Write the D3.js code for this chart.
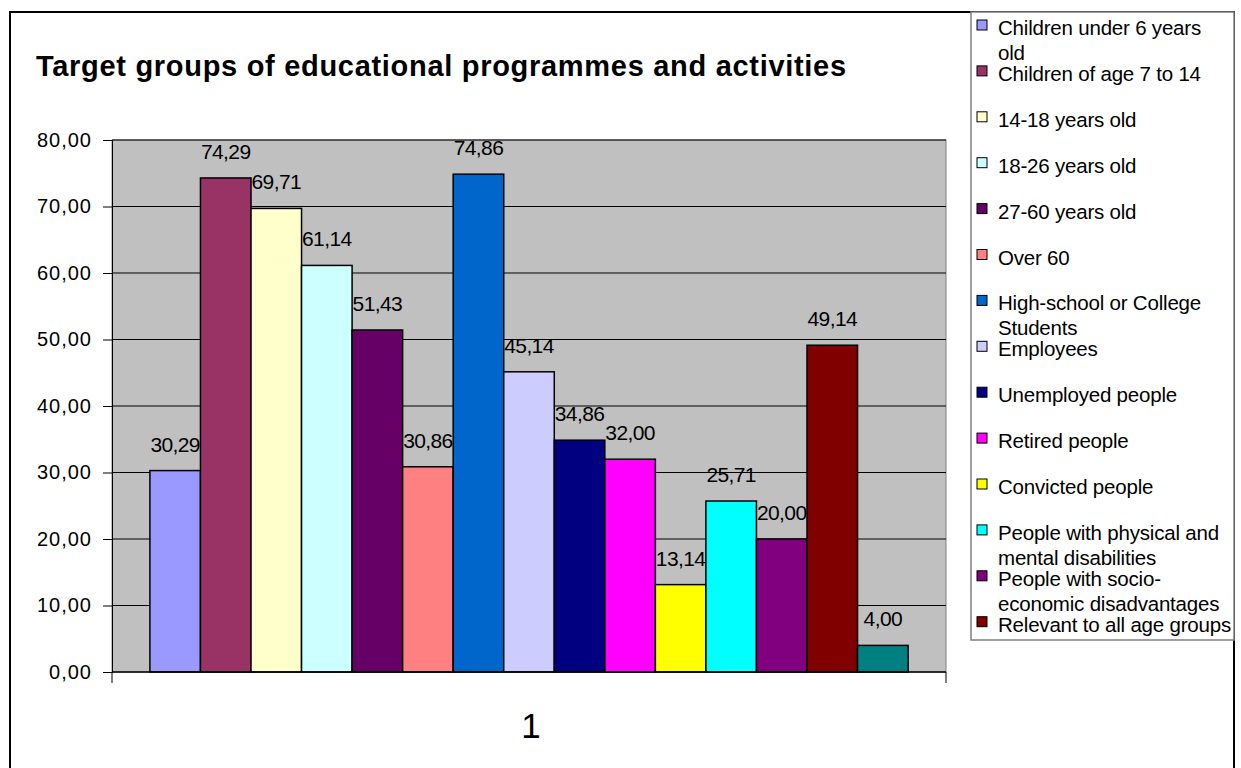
<!DOCTYPE html>
<html>
<head>
<meta charset="utf-8">
<script src="https://cdn.jsdelivr.net/npm/d3@7"></script>
<style>
  html, body { margin: 0; padding: 0; background: #fff; }
  svg { display: block; font-family: "Liberation Sans", Arial, sans-serif; }
  svg text { font-family: "Liberation Sans", Arial, sans-serif; }
</style>
</head>
<body>
<svg id="chart" width="1241" height="768"></svg>
<script>
const title = "Target groups of educational programmes and activities";
const categories = ["1"];
const seriesNames = [
  "Children under 6 years\nold",
  "Children of age 7 to 14",
  "14-18 years old",
  "18-26 years old",
  "27-60 years old",
  "Over 60",
  "High-school or College\nStudents",
  "Employees",
  "Unemployed people",
  "Retired people",
  "Convicted people",
  "People with physical and\nmental disabilities",
  "People with socio-\neconomic disadvantages",
  "Relevant to all age groups"
];
const values = [30.29, 74.29, 69.71, 61.14, 51.43, 30.86, 74.86, 45.14, 34.86, 32.00, 13.14, 25.71, 20.00, 49.14, 4.00];
const colors = ["#9999FF", "#993366", "#FFFFCC", "#CCFFFF", "#660066", "#FF8080", "#0066CC", "#CCCCFF", "#000080", "#FF00FF", "#FFFF00", "#00FFFF", "#800080", "#800000", "#008080"];
const yTicks = [0, 10, 20, 30, 40, 50, 60, 70, 80];

const fmt = v => v.toFixed(2).replace(".", ",");
const svg = d3.select("#chart");

// outer frame
svg.append("rect").attr("x", 10).attr("y", 12).attr("width", 1224).attr("height", 800)
  .attr("fill", "none").attr("stroke", "#000").attr("stroke-width", 2);

// title
svg.append("text").attr("x", 36).attr("y", 76)
  .attr("font-size", 29).attr("font-weight", "bold").attr("letter-spacing", 0.7)
  .attr("fill", "#000").text(title);

const plot = {left: 112, right: 946, top: 140, bottom: 672};
const y = d3.scaleLinear().domain([0, 80]).range([plot.bottom, plot.top]);
const x = d3.scaleBand().domain(categories).range([plot.left, plot.right]).padding(0);

// plot background
svg.append("rect").attr("x", plot.left).attr("y", plot.top)
  .attr("width", plot.right - plot.left).attr("height", plot.bottom - plot.top)
  .attr("fill", "#C0C0C0").attr("stroke", "#808080").attr("stroke-width", 1);

// gridlines
svg.append("g").selectAll("line").data(yTicks.filter(d => d > 0)).join("line")
  .attr("x1", plot.left).attr("x2", plot.right)
  .attr("y1", d => y(d)).attr("y2", d => y(d))
  .attr("stroke", "#000").attr("stroke-width", 1);

// y axis
const yAxis = svg.append("g").attr("transform", `translate(${plot.left},0)`)
  .call(d3.axisLeft(y).tickValues(yTicks).tickSize(9).tickPadding(11).tickFormat(fmt));
yAxis.attr("font-family", null);
yAxis.select(".domain").attr("stroke", "#000");
yAxis.selectAll(".tick line").attr("stroke", "#000");
yAxis.selectAll(".tick text").attr("font-size", 20).attr("letter-spacing", 1)
  .attr("fill", "#000");

// bars
const cat = categories[0];
const groupW = x.bandwidth();
const n = values.length;
const barW = groupW / (n + 1.5);
const inner = d3.scaleBand().domain(d3.range(n))
  .range([x(cat) + barW * 0.75, x(cat) + groupW - barW * 0.75]).padding(0);

svg.append("g").selectAll("rect").data(values).join("rect")
  .attr("x", (d, i) => inner(i)).attr("width", inner.bandwidth())
  .attr("y", d => y(d)).attr("height", d => y(0) - y(d))
  .attr("fill", (d, i) => colors[i]).attr("stroke", "#000").attr("stroke-width", 1.5);

// data labels
svg.append("g").selectAll("text").data(values).join("text")
  .attr("x", (d, i) => inner(i) + inner.bandwidth() / 2)
  .attr("y", d => y(d) - 19)
  .attr("text-anchor", "middle").attr("font-size", 21).attr("letter-spacing", -0.6)
  .attr("fill", "#000").text(fmt);

// x axis
const xAxis = svg.append("g").attr("transform", `translate(0,${plot.bottom})`);
xAxis.append("line").attr("x1", plot.left).attr("x2", plot.right)
  .attr("stroke", "#000").attr("stroke-width", 1.5);
xAxis.selectAll("line.tk").data([plot.left, plot.right]).join("line").attr("class", "tk")
  .attr("x1", d => d).attr("x2", d => d).attr("y1", 0).attr("y2", 11)
  .attr("stroke", "#000");
xAxis.selectAll("text").data(categories).join("text")
  .attr("x", d => x(d) + x.bandwidth() / 2 + 2).attr("y", 66)
  .attr("text-anchor", "middle").attr("font-size", 35).attr("fill", "#000").text(d => d);

// legend
const lg = {x: 971, y: 12, w: 263, h: 628};
svg.append("rect").attr("x", lg.x).attr("y", lg.y).attr("width", lg.w).attr("height", lg.h)
  .attr("fill", "#fff").attr("stroke", "#808080").attr("stroke-width", 1.5);
const step = 45.9;
const items = svg.append("g").selectAll("g").data(seriesNames).join("g")
  .attr("transform", (d, i) => `translate(${lg.x + 6},${35 + i * step})`);
items.append("rect").attr("x", 0).attr("y", -15).attr("width", 10).attr("height", 10)
  .attr("fill", (d, i) => colors[i]).attr("stroke", "#000").attr("stroke-width", 1);
items.append("text").attr("x", 21).attr("y", 0)
  .attr("font-size", 20.5).attr("letter-spacing", -0.2).attr("fill", "#000")
  .selectAll("tspan").data(d => d.split("\n")).join("tspan")
  .attr("x", 21).attr("dy", (d, j) => j === 0 ? 0 : 25).text(d => d);
</script>
</body>
</html>
